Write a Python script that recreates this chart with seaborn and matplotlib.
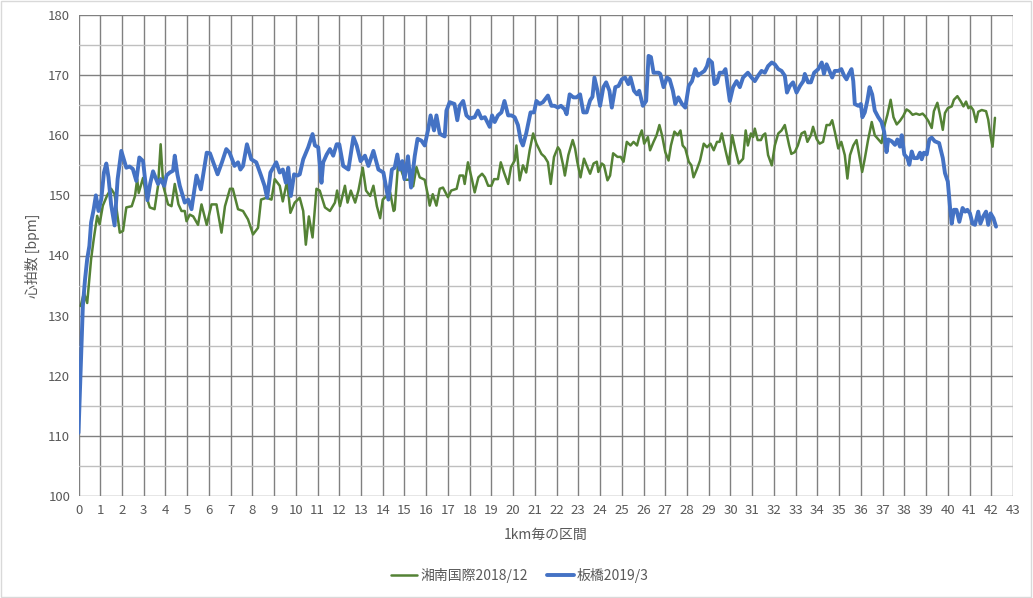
import pandas as pd
import seaborn as sns
import matplotlib.pyplot as plt
from matplotlib.patches import Rectangle

# 湘南国際2018/12 (km, bpm)
shonan_km = [
    0.1, 0.25, 0.4, 0.58, 0.7, 0.86, 0.97, 1.12, 1.32, 1.5, 1.66, 1.9, 2.05, 2.2, 2.45, 2.6, 2.7, 2.77, 2.97,
    3.12, 3.28, 3.5, 3.66, 3.78, 3.9, 4.12, 4.28, 4.43, 4.6, 4.74, 4.89, 4.97, 5.12, 5.28, 5.5, 5.66, 5.9,
    6.12, 6.35, 6.58, 6.74, 6.97, 7.1, 7.34, 7.57, 7.8, 8.03, 8.26, 8.4, 8.65, 8.88, 9.03, 9.26, 9.4, 9.6,
    9.75, 9.95, 10.18, 10.34, 10.46, 10.6, 10.77, 10.95, 11.1, 11.34, 11.57, 11.8, 11.9, 12.03, 12.26, 12.38,
    12.53, 12.73, 12.88, 13.08, 13.23, 13.42, 13.57, 13.73, 13.88, 14.0, 14.18, 14.34, 14.5, 14.55, 14.7,
    14.85, 15.0, 15.24, 15.4, 15.55, 15.7, 15.93, 16.08, 16.16, 16.3, 16.47, 16.62, 16.77, 17.0, 17.15, 17.4,
    17.54, 17.7, 17.77, 17.92, 18.1, 18.23, 18.4, 18.57, 18.7, 18.85, 19.0, 19.12, 19.3, 19.43, 19.58, 19.77,
    19.9, 20.07, 20.15, 20.3, 20.45, 20.6, 20.76, 20.92, 21.07, 21.3, 21.45, 21.6, 21.73, 21.88, 22.06, 22.15,
    22.3, 22.38, 22.54, 22.74, 22.85, 22.95, 23.1, 23.26, 23.38, 23.54, 23.7, 23.85, 23.92, 24.08, 24.18,
    24.34, 24.46, 24.6, 24.8, 24.95, 25.08, 25.23, 25.4, 25.54, 25.7, 25.8, 25.92, 26.03, 26.2, 26.3, 26.46,
    26.6, 26.73, 26.85, 27.0, 27.15, 27.26, 27.42, 27.57, 27.7, 27.8, 27.92, 28.08, 28.2, 28.3, 28.46, 28.6,
    28.77, 28.92, 29.08, 29.23, 29.38, 29.5, 29.6, 29.77, 29.92, 30.08, 30.23, 30.38, 30.58, 30.7, 30.8,
    30.94, 31.04, 31.12, 31.25, 31.4, 31.5, 31.6, 31.73, 31.9, 32.04, 32.2, 32.35, 32.5, 32.6, 32.7, 32.8,
    32.96, 33.1, 33.27, 33.42, 33.54, 33.7, 33.8, 33.96, 34.1, 34.26, 34.42, 34.57, 34.68, 34.8, 34.96, 35.1,
    35.26, 35.38, 35.5, 35.65, 35.8, 35.95, 36.06, 36.18, 36.33, 36.5, 36.64, 36.83, 36.95, 37.1, 37.22,
    37.37, 37.5, 37.65, 37.8, 37.95, 38.1, 38.23, 38.38, 38.54, 38.7, 38.84, 38.95, 39.1, 39.26, 39.36,
    39.52, 39.64, 39.77, 39.87, 40.0, 40.18, 40.28, 40.44, 40.6, 40.72, 40.84, 40.95, 41.05, 41.17, 41.3,
    41.4, 41.56, 41.76, 41.86, 41.97, 42.06, 42.17,
]
shonan_hr = [
    131.6, 133.8, 132.1, 139.4, 142.7, 146.6, 145.2, 148.3, 150.0, 151.1, 150.2, 143.8, 144.1, 148.0, 148.2,
    149.9, 152.7, 150.4, 152.9, 149.9, 148.0, 147.7, 151.6, 158.5, 151.6, 148.5, 148.2, 151.9, 148.5, 147.4,
    147.4, 145.7, 146.8, 146.5, 145.1, 148.5, 145.1, 148.5, 148.5, 143.8, 148.2, 151.1, 151.1, 147.7, 147.4,
    146.0, 143.5, 144.6, 149.3, 149.6, 149.3, 152.7, 151.6, 149.0, 152.4, 147.1, 148.8, 149.6, 147.4, 141.8,
    146.5, 143.0, 151.1, 150.8, 148.0, 147.4, 148.8, 150.8, 148.2, 151.6, 148.8, 150.8, 148.8, 150.8, 154.6,
    150.8, 149.9, 151.6, 148.2, 146.2, 149.3, 149.9, 150.5, 147.4, 147.6, 155.0, 154.2, 152.6, 152.6, 151.5,
    154.7, 153.0, 152.6, 150.0, 148.3, 150.2, 148.3, 151.1, 151.3, 149.7, 150.8, 151.1, 153.3, 153.3, 151.9,
    155.5, 152.7, 150.5, 153.0, 153.6, 153.0, 151.6, 151.6, 152.7, 152.7, 155.5, 153.8, 151.9, 154.7, 155.8,
    158.3, 152.5, 155.0, 153.8, 157.5, 160.3, 158.6, 156.9, 156.4, 155.5, 151.9, 156.4, 158.0, 157.5, 155.0,
    153.3, 156.7, 159.2, 157.8, 155.6, 153.0, 156.1, 155.0, 153.6, 155.3, 155.6, 153.9, 155.3, 155.0, 152.5,
    153.3, 157.0, 156.4, 156.4, 155.6, 158.9, 158.3, 158.9, 158.3, 159.7, 160.8, 158.6, 159.7, 157.5, 158.9,
    160.0, 161.7, 160.0, 157.2, 155.8, 158.3, 160.6, 160.0, 160.8, 158.3, 157.8, 155.6, 155.0, 153.0, 154.4,
    155.8, 158.6, 158.0, 158.6, 157.5, 158.9, 158.9, 160.3, 157.5, 155.2, 160.0, 157.5, 155.3, 156.1, 160.8,
    158.3, 160.3, 159.7, 161.1, 159.2, 159.2, 160.0, 160.3, 156.7, 155.0, 158.3, 160.3, 160.8, 161.7, 160.0,
    158.3, 156.9, 157.2, 158.3, 160.3, 160.6, 158.9, 160.0, 161.4, 159.4, 158.6, 158.9, 161.7, 161.7, 162.5,
    160.6, 157.8, 158.9, 156.7, 152.8, 156.7, 158.3, 159.2, 156.1, 153.9, 156.1, 159.2, 162.2, 160.0, 159.2,
    158.7, 161.8, 163.4, 165.9, 163.0, 161.8, 162.4, 163.2, 164.3, 164.0, 163.4, 163.6, 163.4, 163.6, 163.2,
    162.4, 161.2, 164.0, 165.4, 163.4, 160.9, 163.7, 164.5, 164.8, 165.9, 166.5, 165.6, 164.8, 165.6, 164.5,
    164.8, 164.2, 162.2, 163.9, 164.2, 164.0, 162.6, 159.8, 158.1, 162.9,
]

# 板橋2019/3 (km, bpm)
itabashi_km = [
    0.0, 0.2, 0.3, 0.4, 0.5, 0.58, 0.7, 0.8, 0.92, 1.05, 1.17, 1.28, 1.38, 1.5, 1.66, 1.8, 1.97, 2.2, 2.35,
    2.5, 2.66, 2.8, 2.97, 3.17, 3.3, 3.43, 3.66, 3.78, 3.94, 4.05, 4.2, 4.35, 4.43, 4.55, 4.66, 4.89, 5.05,
    5.2, 5.43, 5.63, 5.9, 6.05, 6.2, 6.4, 6.6, 6.8, 6.95, 7.1, 7.18, 7.34, 7.45, 7.57, 7.75, 7.95, 8.18, 8.4,
    8.56, 8.68, 8.83, 9.1, 9.26, 9.4, 9.54, 9.65, 9.77, 9.92, 10.08, 10.18, 10.34, 10.57, 10.77, 10.88, 11.03,
    11.18, 11.26, 11.42, 11.57, 11.72, 11.88, 12.0, 12.18, 12.42, 12.65, 12.8, 12.98, 13.18, 13.34, 13.57,
    13.8, 14.03, 14.26, 14.42, 14.55, 14.67, 14.78, 14.9, 15.0, 15.16, 15.3, 15.47, 15.6, 15.78, 15.93, 16.08,
    16.2, 16.36, 16.47, 16.62, 16.74, 16.85, 16.93, 17.08, 17.3, 17.43, 17.54, 17.7, 17.85, 18.0, 18.23,
    18.38, 18.54, 18.7, 18.92, 19.03, 19.15, 19.3, 19.46, 19.6, 19.77, 19.92, 20.07, 20.22, 20.35, 20.45,
    20.6, 20.8, 20.96, 21.07, 21.22, 21.37, 21.6, 21.76, 21.9, 22.06, 22.2, 22.37, 22.46, 22.6, 22.77, 22.92,
    23.08, 23.23, 23.38, 23.54, 23.65, 23.74, 23.88, 24.0, 24.15, 24.28, 24.43, 24.54, 24.7, 24.85, 25.0,
    25.15, 25.3, 25.4, 25.56, 25.7, 25.8, 25.97, 26.12, 26.23, 26.34, 26.46, 26.7, 26.77, 26.92, 27.08, 27.2,
    27.35, 27.46, 27.6, 27.77, 27.92, 28.08, 28.23, 28.38, 28.5, 28.6, 28.8, 28.92, 29.0, 29.15, 29.26,
    29.38, 29.5, 29.66, 29.77, 29.86, 29.97, 30.12, 30.28, 30.43, 30.58, 30.8, 30.97, 31.12, 31.27, 31.43,
    31.58, 31.73, 31.9, 32.04, 32.2, 32.35, 32.5, 32.6, 32.73, 32.88, 33.04, 33.2, 33.35, 33.42, 33.57, 33.7,
    33.85, 34.04, 34.2, 34.3, 34.42, 34.52, 34.68, 34.8, 34.96, 35.1, 35.23, 35.34, 35.45, 35.57, 35.65,
    35.72, 35.88, 36.0, 36.07, 36.18, 36.3, 36.4, 36.52, 36.64, 36.8, 36.95, 37.07, 37.18, 37.26, 37.42,
    37.57, 37.68, 37.8, 37.88, 38.0, 38.14, 38.23, 38.34, 38.44, 38.6, 38.72, 38.8, 38.9, 39.03, 39.15,
    39.26, 39.4, 39.6, 39.77, 39.87, 40.0, 40.1, 40.18, 40.28, 40.4, 40.53, 40.68, 40.8, 40.9, 41.02, 41.14,
    41.25, 41.4, 41.5, 41.63, 41.76, 41.86, 41.97, 42.1, 42.22,
]
itabashi_hr = [
    110.5, 131.6, 136.0, 139.4, 141.6, 145.5, 147.7, 150.0, 147.4, 149.4, 153.8, 155.3, 153.0, 148.5, 145.0,
    152.7, 157.4, 154.6, 154.8, 154.4, 152.4, 156.3, 155.7, 149.2, 152.0, 154.0, 151.9, 152.7, 151.6, 153.3,
    153.8, 154.1, 156.6, 153.5, 151.6, 148.8, 149.3, 147.7, 153.3, 151.0, 157.1, 157.0, 155.5, 153.5, 155.5,
    157.7, 157.1, 155.7, 154.9, 155.5, 154.3, 154.9, 158.5, 156.0, 155.5, 153.3, 151.6, 149.6, 153.8, 155.5,
    153.8, 154.3, 152.1, 154.6, 149.9, 153.5, 153.3, 153.5, 156.0, 158.0, 160.2, 158.3, 158.0, 152.1, 155.5,
    156.8, 157.7, 156.6, 158.5, 158.5, 154.9, 154.3, 159.7, 158.3, 155.7, 156.6, 154.9, 157.4, 154.3, 153.8,
    149.3, 154.3, 154.6, 156.8, 154.3, 155.7, 152.7, 156.5, 151.3, 156.5, 159.4, 159.1, 158.3, 160.8, 163.3,
    160.8, 163.3, 160.3, 160.0, 159.8, 164.1, 165.5, 165.2, 162.5, 164.9, 165.7, 163.3, 162.8, 163.0, 164.1,
    162.8, 163.0, 161.4, 163.3, 162.2, 163.3, 163.8, 165.7, 163.3, 163.3, 163.0, 161.7, 159.1, 158.3, 160.3,
    163.8, 163.8, 165.7, 165.2, 165.5, 166.6, 164.9, 164.9, 164.6, 164.9, 164.3, 163.5, 166.8, 166.3, 166.3,
    166.8, 163.8, 163.8, 165.8, 166.4, 169.6, 167.4, 164.9, 168.0, 168.8, 167.4, 164.6, 168.0, 168.2, 169.3,
    169.6, 168.5, 169.6, 167.4, 166.8, 167.4, 164.9, 165.7, 173.2, 173.0, 170.4, 170.4, 170.2, 168.0, 169.6,
    169.3, 167.4, 165.2, 166.3, 165.2, 164.6, 168.2, 169.0, 171.0, 169.9, 170.2, 170.7, 171.5, 172.6, 172.1,
    168.5, 168.8, 170.4, 170.4, 171.0, 168.5, 165.7, 168.0, 169.0, 168.0, 169.6, 170.4, 169.6, 169.0, 169.9,
    170.7, 170.4, 171.5, 172.1, 171.8, 171.0, 170.7, 169.9, 167.1, 168.2, 168.8, 167.1, 168.2, 169.0, 170.2,
    168.8, 168.8, 170.4, 171.0, 172.1, 170.2, 171.8, 171.0, 169.6, 170.7, 170.7, 171.0, 169.9, 169.3, 170.2,
    171.0, 169.0, 165.2, 164.9, 165.2, 163.0, 163.8, 165.8, 168.0, 166.8, 164.1, 163.0, 162.2, 160.6, 157.2,
    159.3, 159.0, 158.4, 159.3, 158.1, 160.0, 156.8, 156.2, 155.1, 157.3, 156.2, 156.2, 157.1, 156.0, 157.1,
    156.8, 159.3, 159.6, 159.0, 158.7, 156.2, 153.7, 152.3, 148.1, 145.3, 147.6, 147.6, 145.6, 147.9, 147.3,
    147.6, 147.0, 145.3, 145.1, 147.3, 145.3, 146.5, 147.3, 145.1, 147.0, 146.2, 144.8,
]

shonan = pd.DataFrame({"km": shonan_km, "hr": shonan_hr})
itabashi = pd.DataFrame({"km": itabashi_km, "hr": itabashi_hr})

sns.set_style("white")
plt.rcParams["font.family"] = ["Noto Sans CJK JP", "DejaVu Sans"]
text_color = "#595959"

fig = plt.figure(figsize=(10.33, 5.98), dpi=100)
ax = fig.add_axes([78.5 / 1033, 1 - 496 / 598, (1013 - 78.5) / 1033, (496 - 15) / 598])

# grid: vertical every km, horizontal every 5 (major 10 darker)
for k in range(0, 44):
    ax.axvline(k, color="#808080", lw=1.0, zorder=0)
for v in range(100, 181, 10):
    ax.axhline(v, color="#808080", lw=1.0, zorder=0)
for v in range(105, 180, 10):
    ax.axhline(v, color="#bfbfbf", lw=1.0, zorder=0)

sns.lineplot(data=shonan, x="km", y="hr", ax=ax, color="#548235", lw=1.8,
             estimator=None, sort=False, label="湘南国際2018/12")
sns.lineplot(data=itabashi, x="km", y="hr", ax=ax, color="#4472c4", lw=2.8,
             estimator=None, sort=False, label="板橋2019/3")

ax.set_xlim(0, 43)
ax.set_ylim(100, 180)
ax.set_xticks(range(0, 44))
ax.set_yticks(range(100, 181, 10))
ax.tick_params(length=0, labelsize=9.5, labelcolor=text_color, pad=6)
for s in ax.spines.values():
    s.set_visible(False)

ax.set_xlabel("1km毎の区間", fontsize=10, color=text_color, labelpad=8)
ax.set_ylabel("心拍数 [bpm]", fontsize=10, color=text_color, labelpad=6)

handles, labels = ax.get_legend_handles_labels()
ax.get_legend().remove()
fig.legend(handles, labels, loc="center", bbox_to_anchor=(0.503, 0.038), ncol=2,
           frameon=False, fontsize=10, labelcolor=text_color, handlelength=1.9,
           handletextpad=0.2, columnspacing=1.4)

fig.patches.append(Rectangle((0.001, 0.001), 0.997, 0.997, transform=fig.transFigure,
                             fill=False, edgecolor="#d9d9d9", lw=1))

fig.savefig("out.png", dpi=100)
